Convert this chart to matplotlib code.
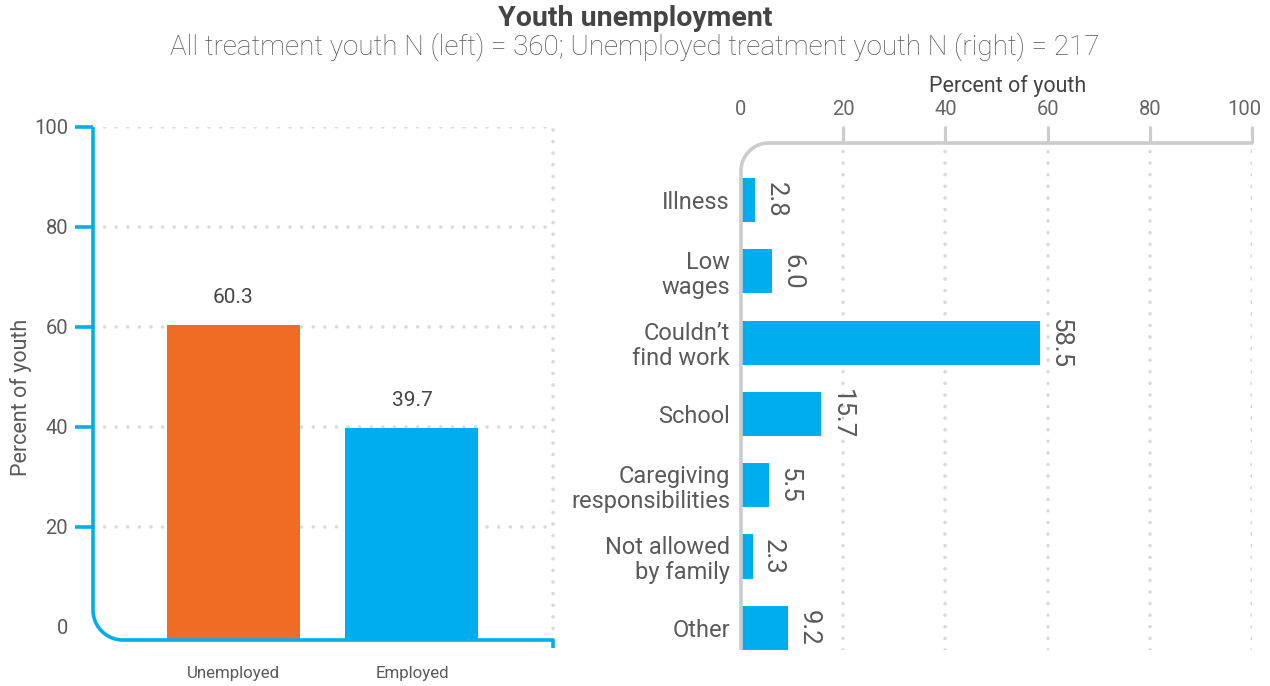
import numpy as np
import matplotlib
matplotlib.use("Agg")
import matplotlib.pyplot as plt
from matplotlib.lines import Line2D
from matplotlib.transforms import ScaledTranslation

# ---- data ----
status_labels = ["Unemployed", "Employed"]
status_values = [60.3, 39.7]

reason_labels = ["Illness", "Low\nwages", "Couldn\u2019t\nfind work", "School",
                 "Caregiving\nresponsibilities", "Not allowed\nby family", "Other"]
reason_values = [2.8, 6.0, 58.5, 15.7, 5.5, 2.3, 9.2]

pct_ticks = [0, 20, 40, 60, 80, 100]

# ---- style ----
ORANGE = "#F06C24"
BLUE = "#00AEEF"
GREY_AXIS = "#CCCCCC"
GRID = "#D9D9D9"
TXT = "#5A5A5A"
TXT_DARK = "#444444"
FONT = ["Roboto", "DejaVu Sans"]
plt.rcParams["font.family"] = FONT

W, H = 1270, 686
fig = plt.figure(figsize=(W / 100, H / 100), dpi=100)


def box(x0, y0, x1, y1):
    """Axes rectangle from pixel edges measured from the top-left corner."""
    return [x0 / W, 1 - y1 / H, (x1 - x0) / W, (y1 - y0) / H]


def pix(x, y):
    return (x / W, 1 - y / H)


# ---- titles ----
fig.text(*pix(635, 18), "Youth unemployment", ha="center", va="center",
         fontsize=20.5, fontweight="bold", color=TXT_DARK)
fig.text(*pix(635, 47),
         "All treatment youth N (left) = 360; Unemployed treatment youth N (right) = 217",
         ha="center", va="center", fontsize=20, color="#555555", fontweight="light")

dotted = dict(linestyle=(0, (0.01, 3.2)), linewidth=2.6, color=GRID,
              dash_capstyle="round")

# ================= left: employment status =================
ax1 = fig.add_axes(box(93, 127, 553, 640))
y_base = -2.6
ax1.set_ylim(y_base, 100)
ax1.set_xlim(-0.787, 1.79)
for s in ax1.spines.values():
    s.set_visible(False)

x_pos = np.arange(len(status_values))
for yv in pct_ticks[1:]:
    ax1.plot([-0.787, 1.79], [yv, yv], zorder=0, **dotted)
ax1.plot([1.79, 1.79], [y_base, 100], zorder=0, clip_on=False, **dotted)

heights = [v - y_base for v in status_values]
ax1.bar(x_pos, heights, bottom=y_base, width=0.745,
        color=[ORANGE, BLUE], zorder=2)
for x, v in zip(x_pos, status_values):
    ax1.annotate(f"{v:.1f}", (x, v), xytext=(0, 20), textcoords="offset points",
                 ha="center", va="center", fontsize=15, color=TXT_DARK)

ax1.set_xticks(x_pos)
ax1.set_xticklabels(status_labels, fontsize=12.2, color=TXT)
ax1.tick_params(axis="x", length=0, pad=19)
ax1.set_yticks(pct_ticks)
ax1.set_yticklabels([str(t) for t in pct_ticks], fontsize=14.5, color=TXT)
ax1.tick_params(axis="y", length=13, width=2.6, color=BLUE, pad=5)
ax1.yaxis.get_major_ticks()[0].tick1line.set_visible(False)
ax1.set_ylabel("Percent of youth", fontsize=15.5, color=TXT)
ax1.yaxis.set_label_coords(-0.132, 0.472)

# rounded blue axis frame (vertical -> corner -> horizontal -> end tick)
r = 30
t = np.linspace(0, np.pi / 2, 30)
xs = [93, 93] + list(93 + r - r * np.cos(t)) + [553, 553]
ys = [127, 640 - r] + list(640 - r + r * np.sin(t)) + [640, 648]
fig.add_artist(Line2D([x / W for x in xs], [1 - y / H for y in ys],
                      transform=fig.transFigure, color=BLUE, linewidth=2.6,
                      solid_capstyle="butt", solid_joinstyle="round"))

# ================= right: reasons =================
ax2 = fig.add_axes(box(741, 143, 1252, 650))
ax2.set_xlim(0, 100)
ax2.set_ylim(6.31, -0.8)
for s in ax2.spines.values():
    s.set_visible(False)

for xv in pct_ticks[1:]:
    ax2.plot([xv, xv], [6.31, -0.8], zorder=0, **dotted)

y_pos = np.arange(len(reason_values))
ax2.barh(y_pos, reason_values, height=0.62, color=BLUE, zorder=2)
for y, v in zip(y_pos, reason_values):
    ax2.annotate(f"{v:.1f}", (v, y), xytext=(6, 0), textcoords="offset points",
                 rotation=270, ha="left", va="center", fontsize=18.5,
                 color=TXT)

ax2.set_yticks(y_pos)
ax2.set_yticklabels(reason_labels, fontsize=17, color=TXT, linespacing=1.12)
ax2.tick_params(axis="y", length=0, pad=8)

ax2.xaxis.tick_top()
ax2.set_xticks(pct_ticks)
ax2.set_xticklabels([str(t) for t in pct_ticks], fontsize=14.5, color="#666666")
ax2.tick_params(axis="x", length=12, width=2.3, color=GREY_AXIS, pad=5)
ax2.xaxis.get_major_ticks()[0].tick2line.set_visible(False)
last = ax2.get_xticklabels()[-1]
last.set_transform(last.get_transform() + ScaledTranslation(-8 / 100, 0, fig.dpi_scale_trans))
fig.text(*pix(1008, 86), "Percent of youth", ha="center", va="center",
         fontsize=15.5, color=TXT_DARK)

# rounded grey frame (top axis -> corner -> vertical axis)
r2 = 28
xs2 = [1253, 741 + r2] + list(741 + r2 - r2 * np.sin(t)) + [741, 741]
ys2 = [143, 143] + list(143 + r2 - r2 * np.cos(t)) + [143 + r2, 650]
fig.add_artist(Line2D([x / W for x in xs2], [1 - y / H for y in ys2],
                      transform=fig.transFigure, color=GREY_AXIS, linewidth=2.6,
                      solid_capstyle="butt", solid_joinstyle="round"))

fig.savefig("out.png", dpi=100)
